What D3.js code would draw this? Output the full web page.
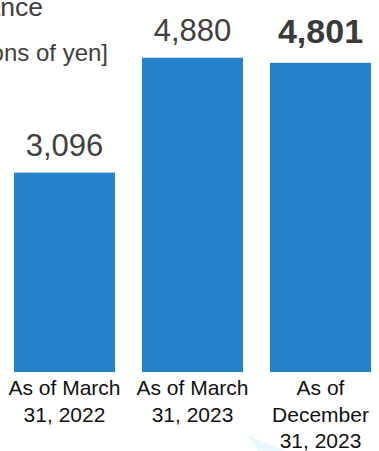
<!DOCTYPE html>
<html>
<head>
<meta charset="utf-8">
<script src="https://cdn.jsdelivr.net/npm/d3@7/dist/d3.min.js"></script>
<style>
  html, body { margin: 0; padding: 0; background: #fff; }
  svg { display: block; }
</style>
</head>
<body>
<script>
// Balance by reporting date, billions of yen
const categories = [["As of March", "31, 2022"], ["As of March", "31, 2023"], ["As of", "December", "31, 2023"]];
const values = [3096, 4880, 4801];
const highlight = [false, false, true];
const titleText = "Balance";
const unitText = "[Billions of yen]";

const W = 379, H = 451;
const svg = d3.select("body").append("svg").attr("width", W).attr("height", H);
const font = "'Liberation Sans', Arial, sans-serif";

// faint decorative wedge near the bottom edge
svg.append("path")
  .attr("d", d3.line()([[247, 435], [286, 451], [258, 451]]) + "Z")
  .attr("fill", "#e9f8fc");

const x = d3.scaleBand().domain(d3.range(values.length)).range([14, 371]).paddingInner(0.211).paddingOuter(0);
const y = d3.scaleLinear().domain([0, 5000]).range([372, 50]);

svg.append("text")
  .attr("x", 43).attr("y", 16)
  .attr("text-anchor", "end")
  .attr("font-family", font).attr("font-size", 26.5)
  .attr("fill", "#404040").text(titleText);

svg.append("text")
  .attr("x", 108).attr("y", 61)
  .attr("text-anchor", "end")
  .attr("font-family", font).attr("font-size", 24)
  .attr("fill", "#404040").text(unitText);

svg.selectAll("rect.bar").data(values).join("rect")
  .attr("class", "bar")
  .attr("x", (d, i) => x(i))
  .attr("width", x.bandwidth())
  .attr("y", d => y(d))
  .attr("height", d => y(0) - y(d))
  .attr("fill", "#2681c8");

svg.selectAll("text.val").data(values).join("text")
  .attr("class", "val")
  .attr("x", (d, i) => x(i) + x.bandwidth() / 2)
  .attr("y", (d, i) => y(d) - (highlight[i] ? 20 : 17))
  .attr("text-anchor", "middle")
  .attr("font-family", font)
  .attr("font-size", (d, i) => highlight[i] ? 34 : 31)
  .attr("font-weight", (d, i) => highlight[i] ? "bold" : "normal")
  .attr("fill", (d, i) => highlight[i] ? "#3a3a3a" : "#404040")
  .text(d => d3.format(",")(d));

const lab = svg.selectAll("text.cat").data(categories).join("text")
  .attr("class", "cat")
  .attr("text-anchor", "middle")
  .attr("font-family", font).attr("font-size", 21)
  .attr("fill", "#111");
lab.each(function(lines, i) {
  const cx = x(i) + x.bandwidth() / 2;
  d3.select(this).selectAll("tspan").data(lines).join("tspan")
    .attr("x", cx)
    .attr("y", (l, j) => 395 + j * 26.5)
    .text(l => l);
});
</script>
</body>
</html>
